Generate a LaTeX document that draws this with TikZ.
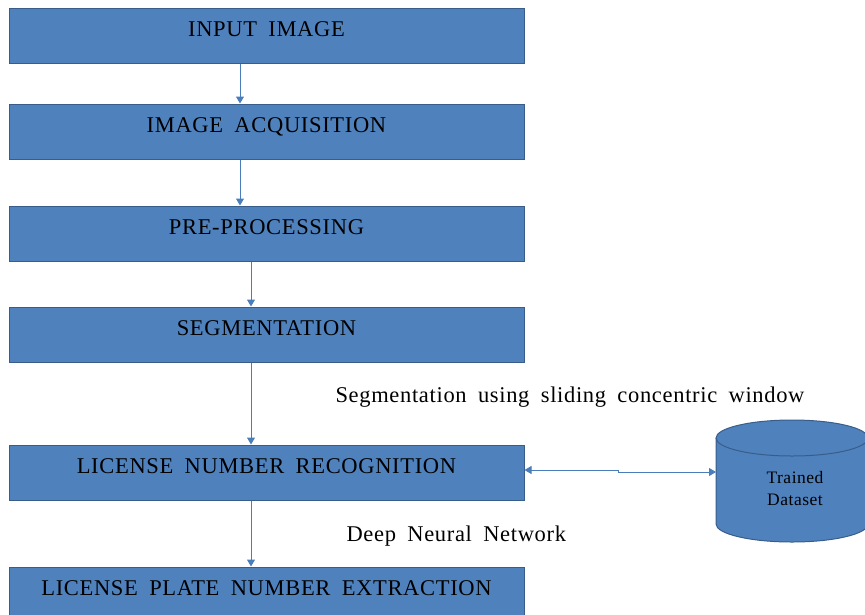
\documentclass[tikz,border=0pt]{standalone}
\usepackage{fontspec}
\setmainfont{Liberation Serif}[LetterSpace=3, WordSpace=1.8]
\usetikzlibrary{arrows.meta}
\definecolor{boxblue}{HTML}{4F81BD}
\definecolor{boxedge}{HTML}{385D8A}
\definecolor{arrowblue}{HTML}{4A7EBB}

\begin{document}
\begin{tikzpicture}[x=1pt, y=-1pt,
        stage/.style={draw=boxedge, line width=1pt, fill=boxblue, rectangle,
            minimum width=515pt, inner ysep=0pt, text height=28.5pt, text depth=26.5pt,
            font=\fontsize{22.5}{26}\selectfont},
        flow/.style={draw=arrowblue, line width=1pt, ->},
        >={Triangle[length=7pt, width=8pt]}]
                \useasboundingbox (0,0) rectangle (865,614);
                \node[stage] (input) at (266.5,35.5) {INPUT IMAGE};
                \node[stage] (acq) at (266.5,131.5) {IMAGE ACQUISITION};
                \node[stage] (pre) at (266.5,233.5) {PRE-PROCESSING};
                \node[stage] (seg) at (266.5,334.5) {SEGMENTATION};
                \node[stage] (rec) at (266.5,472.5) {LICENSE NUMBER RECOGNITION};
                \node[stage] (ext) at (266.5,594.5) {LICENSE PLATE NUMBER EXTRACTION};
                \draw[flow] ([xshift=-26.5pt]input.south) -- ([xshift=-26.5pt]acq.north);
                \draw[flow] ([xshift=-26.5pt]acq.south) -- ([xshift=-26.5pt]pre.north);
                \draw[flow] ([xshift=-15.5pt]pre.south) -- ([xshift=-15.5pt]seg.north);
                \draw[flow] ([xshift=-15.5pt]seg.south) -- ([xshift=-15.5pt]rec.north);
                \draw[flow] ([xshift=-15.5pt]rec.south) -- ([xshift=-15.5pt]ext.north);
                % trained dataset cylinder
                \fill[boxblue] (716,438) -- (716,524) arc[start angle=180, end angle=0, x radius=76, y radius=18]
                    -- (868,438) -- cycle;
                \draw[boxedge, line width=1pt] (716,438) -- (716,524)
                    arc[start angle=180, end angle=0, x radius=76, y radius=18] -- (868,438);
                \draw[boxedge, line width=1pt, fill=boxblue] (792,438) ellipse[x radius=76, y radius=18];
                \node[align=center, font=\fontsize{17.5}{22}\selectfont] (data) at (795,489) {Trained\\Dataset};
                \coordinate (dbw) at (716,472);
                \draw[flow, <->] ([yshift=2.5pt]rec.east) -- ++(94,0) -- ++(0,2) -- (dbw);
                \node[anchor=base west, font=\fontsize{22.5}{26}\selectfont] (segnote) at (332,402)
                    {Segmentation using sliding concentric window};
                \node[anchor=base west, font=\fontsize{22.5}{26}\selectfont] (dnnnote) at (343,541)
                    {Deep Neural Network};
\end{tikzpicture}
\end{document}
